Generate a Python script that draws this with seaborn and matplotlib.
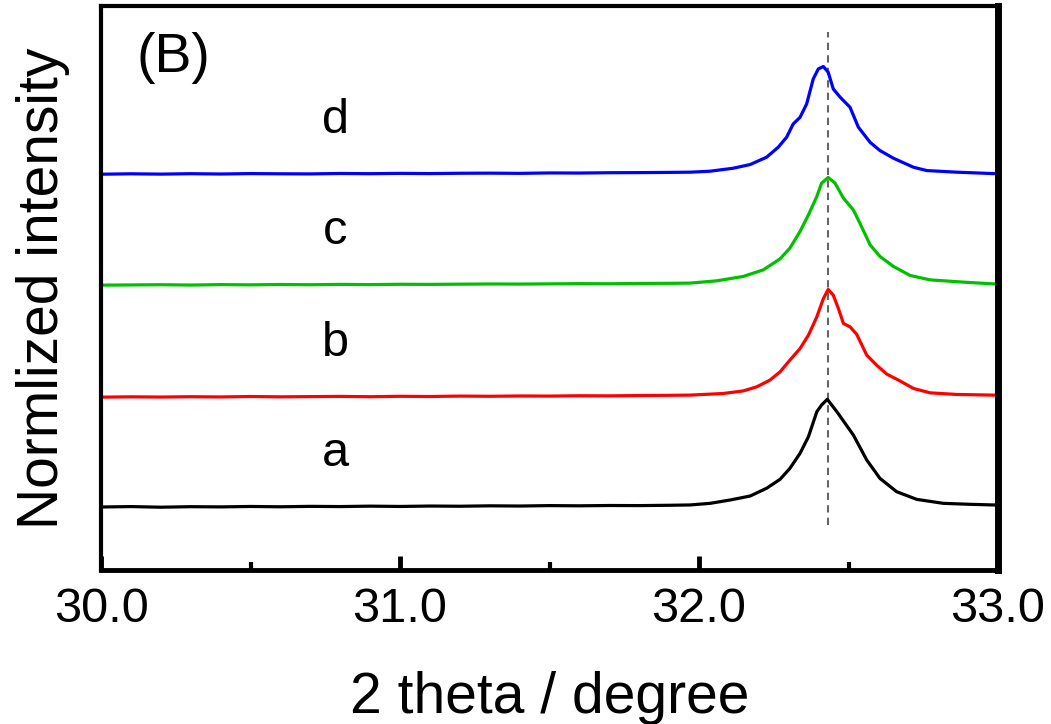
import matplotlib
matplotlib.use("Agg")
import matplotlib.pyplot as plt
import seaborn as sns
import pandas as pd
from matplotlib.ticker import MultipleLocator

# ---- data -------------------------------------------------------------
samples = ["a", "b", "c", "d"]
colors = ["#000000", "#ff0000", "#00c000", "#0000ff"]
stack_offsets = [0.0, 1.02, 2.06, 3.09]

# flat background region (shared 2-theta grid)
baseline_2theta = [30.00, 30.10, 30.20, 30.30, 30.40, 30.50, 30.60, 30.70,
                   30.80, 30.90, 31.00, 31.10, 31.20, 31.30, 31.40, 31.50,
                   31.60, 31.70, 31.80, 31.90]
a_baseline = [0.000, 0.004, -0.002, 0.003, 0.001, 0.005, 0.002, 0.006, 0.004,
              0.008, 0.005, 0.009, 0.007, 0.011, 0.009, 0.013, 0.011, 0.014,
              0.013, 0.016]
b_baseline = [0.000, 0.003, 0.001, 0.004, 0.002, 0.006, 0.003, 0.005, 0.007,
              0.004, 0.008, 0.006, 0.010, 0.008, 0.011, 0.010, 0.013, 0.012,
              0.015, 0.017]
c_baseline = [0.000, 0.002, 0.004, 0.001, 0.005, 0.003, 0.006, 0.004, 0.007,
              0.005, 0.008, 0.007, 0.009, 0.011, 0.010, 0.012, 0.014, 0.013,
              0.016, 0.017]
d_baseline = [0.000, 0.004, 0.001, 0.005, 0.002, 0.006, 0.004, 0.003, 0.007,
              0.005, 0.008, 0.006, 0.009, 0.010, 0.008, 0.012, 0.011, 0.014,
              0.015, 0.017]

# diffraction peak region
a_2theta = [31.970, 32.037, 32.104, 32.171, 32.226, 32.271, 32.304, 32.338,
            32.366, 32.394, 32.410, 32.429, 32.461, 32.516, 32.561, 32.605,
            32.661, 32.728, 32.817, 32.906, 32.984, 33.000]
a_int = [0.019, 0.034, 0.065, 0.102, 0.174, 0.257, 0.359, 0.499, 0.653, 0.885,
         0.947, 1.000, 0.885, 0.669, 0.436, 0.266, 0.142, 0.071, 0.034, 0.025,
         0.019, 0.019]

b_2theta = [31.970, 32.081, 32.148, 32.193, 32.237, 32.271, 32.304, 32.338,
            32.366, 32.394, 32.416, 32.432, 32.449, 32.466, 32.483, 32.505,
            32.527, 32.561, 32.594, 32.628, 32.672, 32.717, 32.773, 32.862,
            32.984, 33.000]
b_int = [0.019, 0.034, 0.058, 0.096, 0.158, 0.235, 0.344, 0.452, 0.576, 0.746,
         0.916, 1.000, 0.947, 0.824, 0.684, 0.653, 0.585, 0.390, 0.297, 0.214,
         0.151, 0.081, 0.040, 0.025, 0.019, 0.019]

c_2theta = [31.970, 32.059, 32.148, 32.215, 32.271, 32.304, 32.338, 32.366,
            32.394, 32.410, 32.432, 32.455, 32.483, 32.516, 32.538, 32.572,
            32.605, 32.650, 32.706, 32.773, 32.884, 32.984, 33.000]
c_int = [0.019, 0.040, 0.081, 0.142, 0.244, 0.344, 0.499, 0.653, 0.824, 0.947,
         1.000, 0.947, 0.808, 0.699, 0.576, 0.375, 0.267, 0.174, 0.090, 0.049,
         0.028, 0.012, 0.012]

d_2theta = [31.970, 32.037, 32.115, 32.171, 32.226, 32.265, 32.293, 32.315,
            32.338, 32.360, 32.382, 32.399, 32.416, 32.432, 32.449, 32.472,
            32.505, 32.533, 32.572, 32.605, 32.650, 32.717, 32.762, 32.862,
            32.984, 33.000]
d_int = [0.019, 0.028, 0.056, 0.090, 0.158, 0.251, 0.344, 0.467, 0.529, 0.653,
         0.885, 0.978, 1.000, 0.947, 0.792, 0.715, 0.622, 0.436, 0.297, 0.220,
         0.149, 0.065, 0.034, 0.019, 0.006, 0.006]

reference_2theta = 32.43
xtick_values = [30.0, 31.0, 32.0, 33.0]
xtick_labels = ["30.0", "31.0", "32.0", "33.0"]

# ---- long-form table --------------------------------------------------
baselines = [a_baseline, b_baseline, c_baseline, d_baseline]
peak_x = [a_2theta, b_2theta, c_2theta, d_2theta]
peak_y = [a_int, b_int, c_int, d_int]
rows = []
for name, off, bl, px, py in zip(samples, stack_offsets, baselines, peak_x, peak_y):
    for x, y in zip(baseline_2theta + px, bl + py):
        rows.append({"sample": name, "two_theta": x, "intensity": y + off})
df = pd.DataFrame(rows)

# ---- figure -----------------------------------------------------------
sns.set_style("white")
plt.rcParams["font.family"] = ["Liberation Sans", "DejaVu Sans"]
plt.rcParams["text.color"] = "black"
plt.rcParams["axes.labelcolor"] = "black"
plt.rcParams["xtick.color"] = "black"
plt.rcParams["ytick.color"] = "black"

fig = plt.figure(figsize=(10.51, 7.24), dpi=100)
ax = fig.add_axes([0.0961, 0.2127, 0.8535, 0.7790])

sns.lineplot(data=df, x="two_theta", y="intensity", hue="sample",
             palette=dict(zip(samples, colors)), sort=False, estimator=None,
             linewidth=2.3, legend=False, ax=ax)

ax.plot([reference_2theta, reference_2theta], [-0.167, 4.41],
        color="#666666", linestyle=(0, (3.5, 2.5)), linewidth=1.5, zorder=1)

for name, off in zip(samples, stack_offsets):
    ax.text(30.783, off + 0.50, name, fontsize=35, ha="center", va="center",
            color="black")

ax.text(0.081, 0.908, "(B)", transform=ax.transAxes, fontsize=40,
        ha="center", va="center", color="black")

ax.set_xlim(30.0, 33.0)
ax.set_ylim(-0.585, 4.652)
ax.set_xticks(xtick_values)
ax.set_xticklabels(xtick_labels)
ax.xaxis.set_minor_locator(MultipleLocator(0.5))
ax.set_yticks([])

ax.tick_params(axis="x", which="major", direction="in", length=10, width=3.5,
               labelsize=35, pad=12, bottom=True, top=False, colors="black")
ax.tick_params(axis="x", which="minor", direction="in", length=6, width=3,
               bottom=True, top=False, colors="black")

ax.set_xlabel("2 theta / degree", fontsize=41, labelpad=28, color="black")
ax.set_ylabel("Normlized intensity", fontsize=41, labelpad=22, color="black")

for side, lw in {"left": 3.0, "top": 3.0, "bottom": 3.5, "right": 5.0}.items():
    ax.spines[side].set_visible(True)
    ax.spines[side].set_linewidth(lw)
    ax.spines[side].set_color("black")

fig.savefig("out.png", dpi=100, facecolor="white")
